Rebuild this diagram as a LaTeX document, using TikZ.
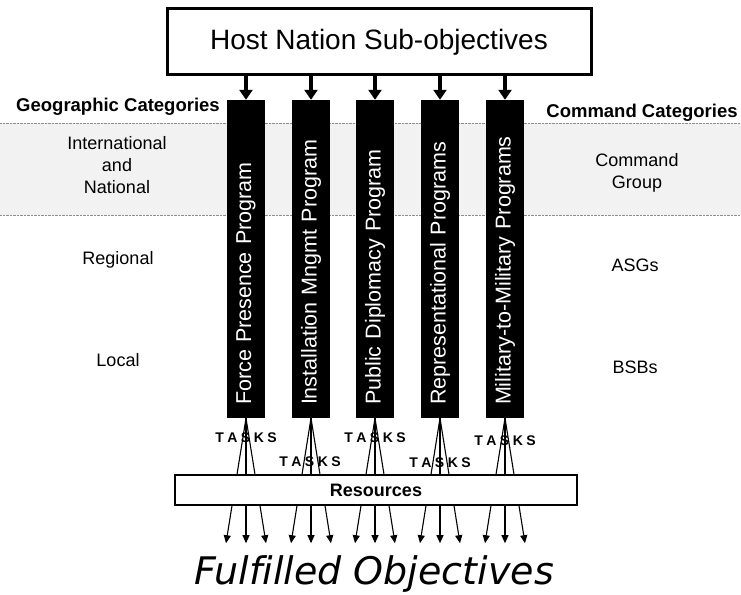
\documentclass[tikz,border=0pt]{standalone}
\usepackage{fontspec}
\setmainfont{Liberation Sans}
\newfontfamily\objfont[Ligatures=NoCommon]{DejaVu Sans}
\usepackage{tikz}
\usetikzlibrary{positioning, arrows.meta, calc}

\newcommand{\taskword}{T\hspace{3.5pt}A\hspace{3.5pt}S\hspace{3.5pt}K\hspace{3.5pt}S}

\begin{document}
\begin{tikzpicture}[x=1pt, y=1pt,
  prog/.style={rectangle, fill=black, text=white, rotate=90, minimum width=318pt, minimum height=38pt,
    text width=292pt, inner xsep=13pt, inner ysep=0pt, align=left, font=\fontsize{21.5}{24}\selectfont},
  feed/.style={line width=4pt, -{Triangle[width=13pt,length=10pt]}},
  fan/.style={line width=1.1pt, -{Triangle[width=7pt,length=8pt]}},
  tasklbl/.style={font=\bfseries\fontsize{14}{16}\selectfont},
  cat/.style={font=\bfseries\fontsize{18.5}{21}\selectfont},
  lvl/.style={font=\fontsize{18}{22}\selectfont, align=center}]
  \useasboundingbox (0,0) rectangle (741,594);

  % top level band
  \fill[black!5] (0,379) rectangle (741,471);
  \draw[black!45, densely dotted] (0,471) -- (741,471);
  \draw[black!45, densely dotted] (0,379) -- (741,379);

  \node[draw, line width=3pt, minimum width=424pt, minimum height=66pt, font=\fontsize{28}{32}\selectfont] (hn) at (379,552) {Host Nation Sub-objectives};

  \node[prog] (p1) at (246,335) {Force Presence Program};
  \node[prog] (p2) at (311,335) {Installation Mngmt Program};
  \node[prog] (p3) at (375,335) {Public Diplomacy Program};
  \node[prog] (p4) at (440,335) {Representational Programs};
  \node[prog] (p5) at (505,335) {Military-to-Military Programs};

  \foreach \p in {p1,p2,p3,p4,p5}
    \draw[feed] (hn.south -| \p.east) -- (\p.east);

  \foreach \p in {p1,p2,p3,p4,p5}
    \foreach \d in {-20,0,20}
      \draw[fan] (\p.west) -- ++(\d,-125);

  \node[tasklbl] (t1) at (246,156) {\taskword};
  \node[tasklbl] (t2) at (310,132) {\taskword};
  \node[tasklbl] (t3) at (375,156) {\taskword};
  \node[tasklbl] (t4) at (440,131) {\taskword};
  \node[tasklbl] (t5) at (505,153) {\taskword};

  \node[draw, fill=white, line width=2.5pt, minimum width=402pt, minimum height=30pt, font=\bfseries\fontsize{18}{20}\selectfont] (res) at (376,104) {Resources};

  \node[anchor=base, font=\objfont\itshape\fontsize{38}{44}\selectfont] (fo) at (374,10) {Fulfilled Objectives};

  % geographic side
  \node[cat] (geo) at (118,487) {Geographic Categories};
  \node[lvl] (intl) at (117,429) {International\\and\\National};
  \node[lvl] (reg) at (118,334) {Regional};
  \node[lvl] (loc) at (118,234) {Local};

  % command side
  \node[cat] (cmd) at (642,481) {Command Categories};
  \node[lvl] (cgrp) at (637,421) {Command\\Group};
  \node[lvl] (asg) at (635,329) {ASGs};
  \node[lvl] (bsb) at (635,227) {BSBs};
\end{tikzpicture}
\end{document}
